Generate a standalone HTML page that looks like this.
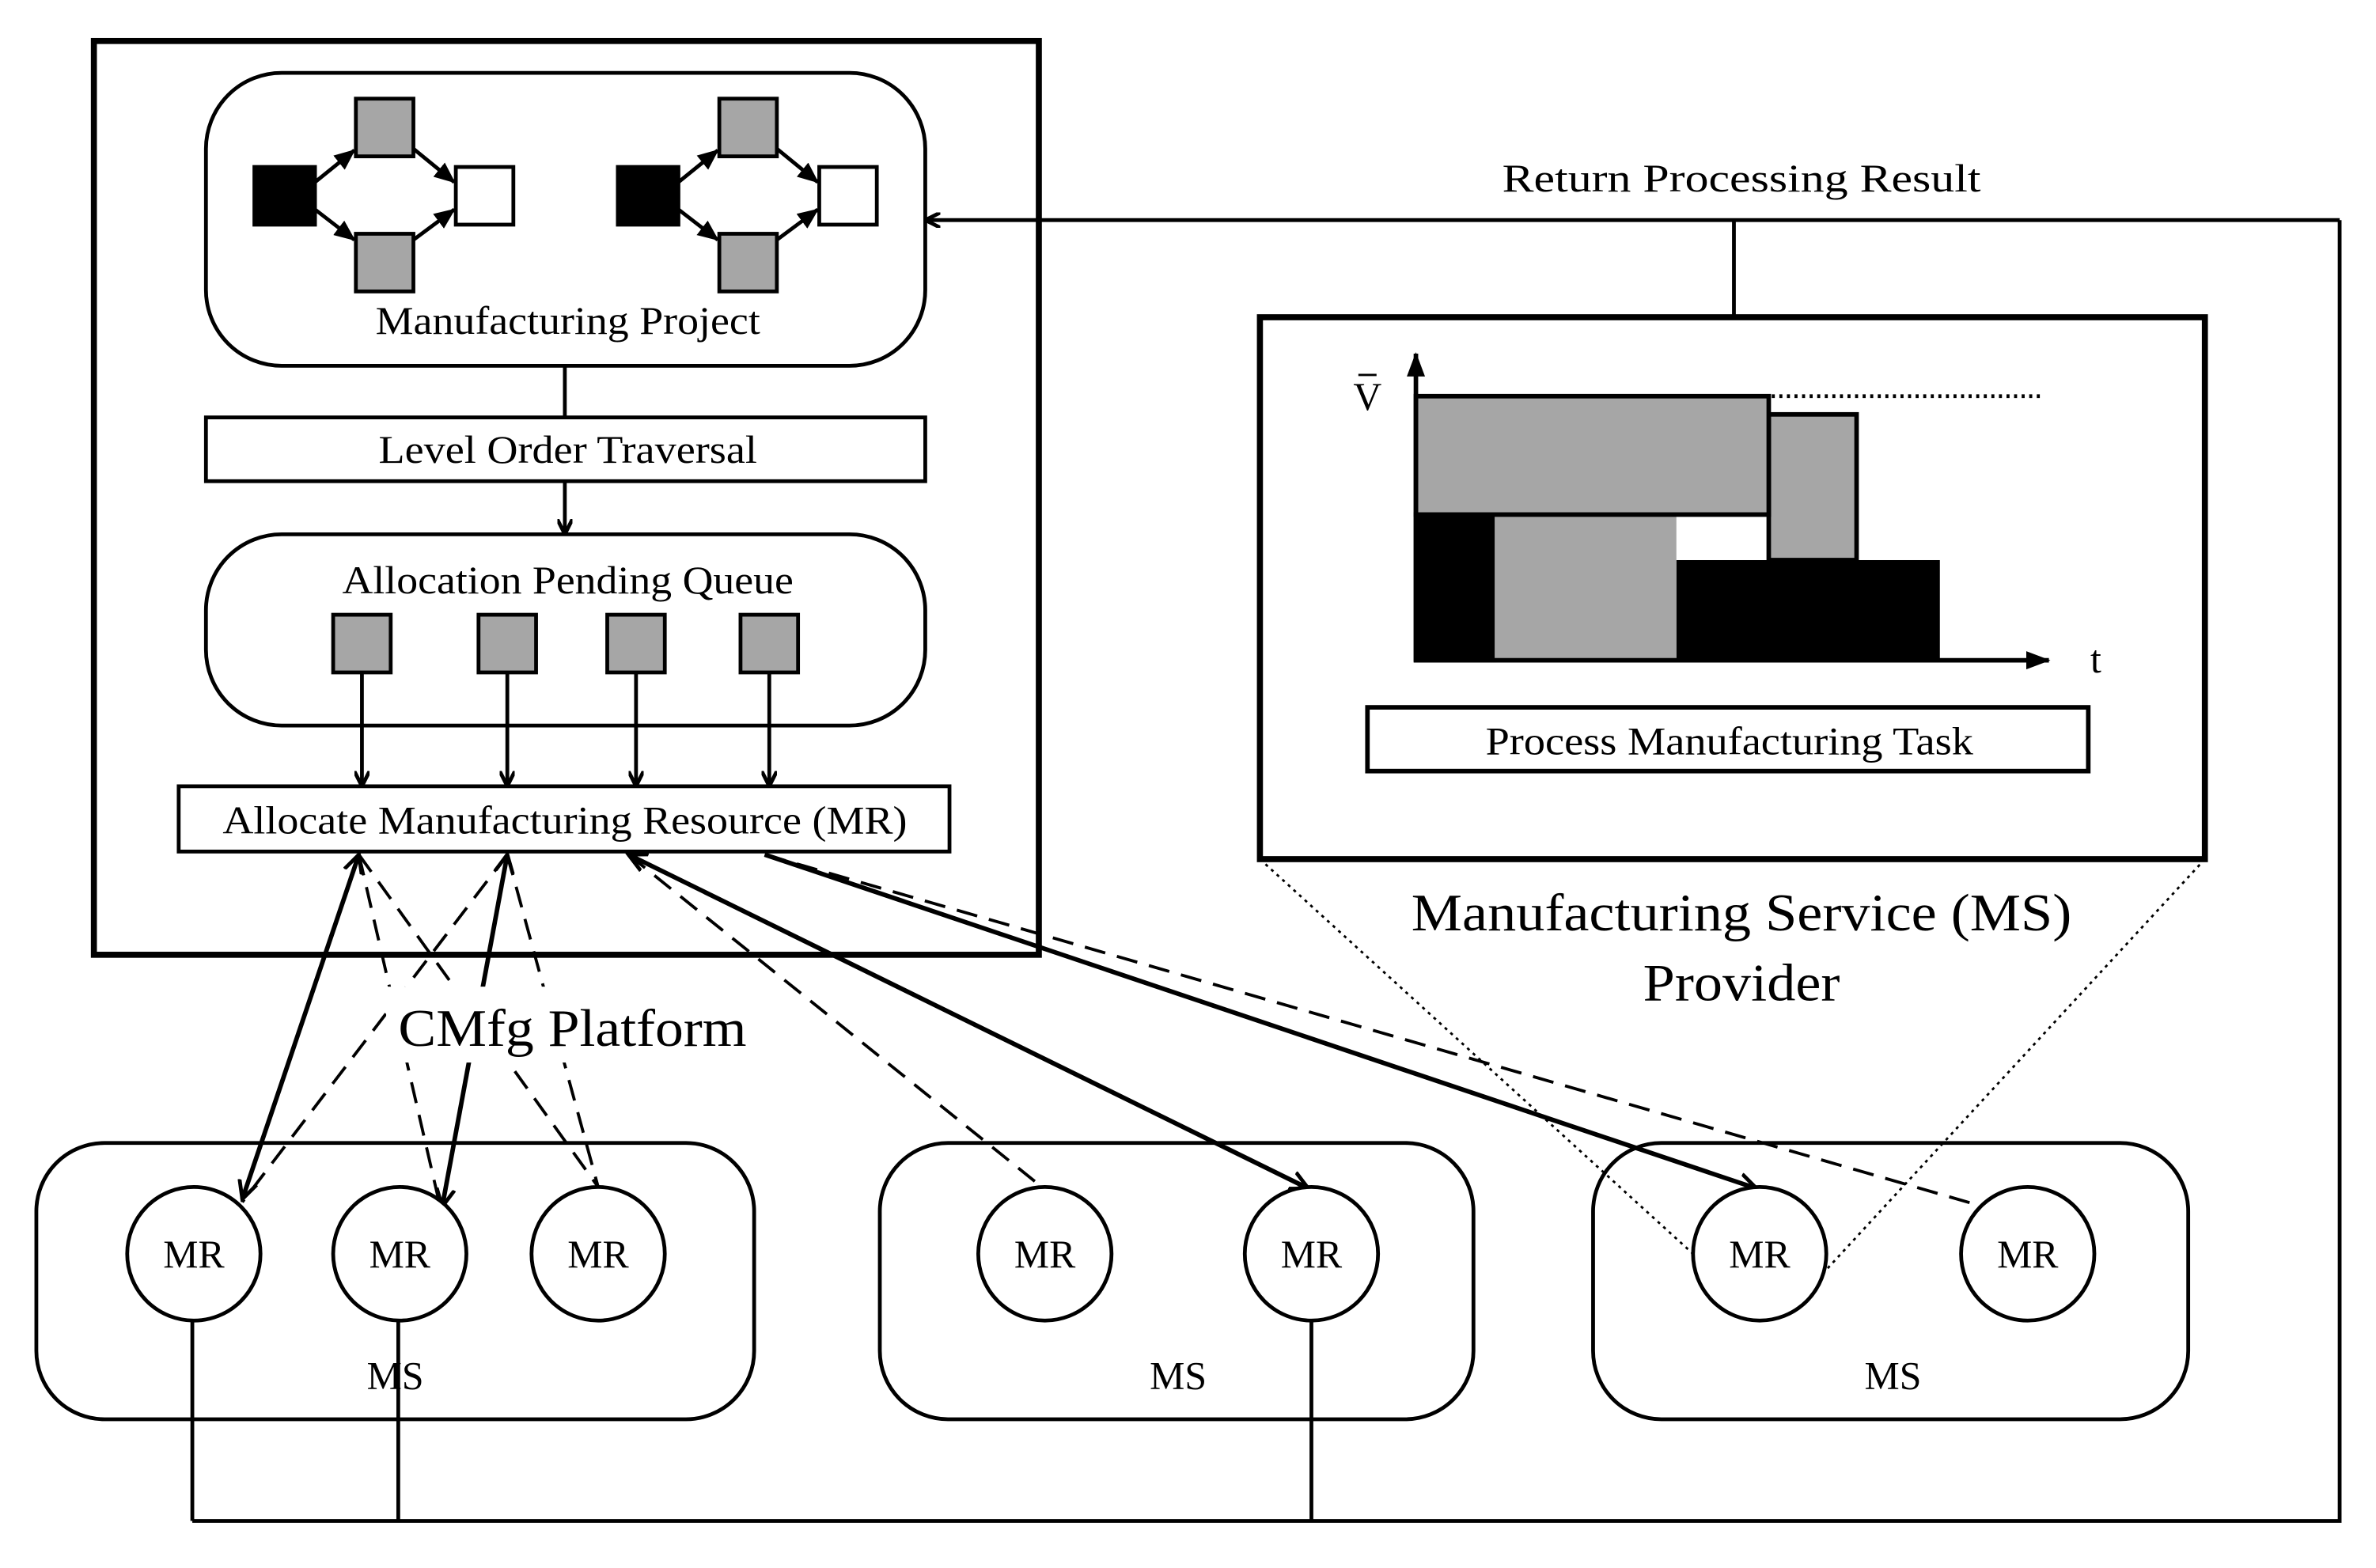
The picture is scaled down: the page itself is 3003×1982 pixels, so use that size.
<!DOCTYPE html>
<html><head><style>html,body{margin:0;padding:0;background:#fff}svg{display:block}</style></head>
<body>
<svg width="3003" height="1982" viewBox="0 0 1569 1033" preserveAspectRatio="none" xmlns="http://www.w3.org/2000/svg" font-family="Liberation Serif, serif">
<defs>
<marker id="a" markerWidth="10" markerHeight="10" refX="9" refY="5" orient="auto" markerUnits="userSpaceOnUse"><path d="M0,0 L10,5 L0,10" fill="none" stroke="#000" stroke-width="2.5"/></marker>
<marker id="f" markerWidth="16" markerHeight="12" refX="15" refY="6" orient="auto" markerUnits="userSpaceOnUse"><path d="M0,0 L16,6 L0,12 z" fill="#000"/></marker>
<marker id="s" markerWidth="14" markerHeight="12" refX="13" refY="6" orient="auto" markerUnits="userSpaceOnUse"><path d="M0,0 L14,6 L0,12 z" fill="#000"/></marker>
<marker id="ar" markerWidth="14" markerHeight="14" refX="12" refY="7" orient="auto-start-reverse" markerUnits="userSpaceOnUse"><path d="M0,1 L12,7 L0,13" fill="none" stroke="#000" stroke-width="2.5"/></marker>
</defs>
<g fill="none" stroke="#000">
<rect x="62" y="27" width="624" height="602" stroke-width="4"/>
<rect x="136" y="48" width="475" height="193" rx="50" stroke-width="2.5"/>
<line x1="373" y1="241" x2="373" y2="275" stroke-width="2.5"/>
<rect x="136" y="275" width="475" height="42" stroke-width="2.5"/>
<line x1="373" y1="317" x2="373" y2="351" stroke-width="2.5" marker-end="url(#a)"/>
<rect x="136" y="352" width="475" height="126" rx="50" stroke-width="2.5"/>
<rect x="118" y="518" width="509" height="43" stroke-width="2.5"/>
<g stroke-width="2.5">
<line x1="239" y1="443" x2="239" y2="517" marker-end="url(#a)"/>
<line x1="335" y1="443" x2="335" y2="517" marker-end="url(#a)"/>
<line x1="420" y1="443" x2="420" y2="517" marker-end="url(#a)"/>
<line x1="508" y1="443" x2="508" y2="517" marker-end="url(#a)"/>
</g>
<polyline points="1545,145 1545,1002 127,1002" stroke-width="2.5"/>
<line x1="1545" y1="145" x2="612" y2="145" stroke-width="2.5" marker-end="url(#a)"/>
<line x1="1145" y1="145" x2="1145" y2="209" stroke-width="2.5"/>
<rect x="832" y="209" width="624" height="357" stroke-width="4"/>
<rect x="903" y="466" width="476" height="42" stroke-width="3"/>
<line x1="832" y1="566" x2="1118" y2="826" stroke-width="1.5" stroke-dasharray="2,3"/>
<line x1="1456" y1="566" x2="1200" y2="843" stroke-width="1.5" stroke-dasharray="2,3"/>
<rect x="24" y="753" width="474" height="182" rx="45" stroke-width="2.5"/>
<rect x="581" y="753" width="392" height="182" rx="45" stroke-width="2.5"/>
<rect x="1052" y="753" width="393" height="182" rx="45" stroke-width="2.5"/>
<g stroke-width="2.5">
<line x1="127" y1="870" x2="127" y2="1002"/>
<line x1="263" y1="870" x2="263" y2="1002"/>
<line x1="866" y1="870" x2="866" y2="1002"/>
</g>
<g stroke-width="2" stroke-dasharray="14,8">
<line x1="237" y1="563" x2="290" y2="792"/>
<line x1="335" y1="563" x2="160" y2="792"/>
<line x1="335" y1="563" x2="395" y2="782"/>
<line x1="237" y1="563" x2="395" y2="782"/>
<line x1="415" y1="563" x2="688" y2="782"/>
<line x1="505" y1="563" x2="1310" y2="795"/>
</g>
<g stroke-width="3">
<line x1="237" y1="563" x2="160" y2="790" marker-start="url(#ar)" marker-end="url(#ar)"/>
<line x1="335" y1="563" x2="292" y2="795" marker-start="url(#ar)" marker-end="url(#ar)"/>
<line x1="415" y1="563" x2="864" y2="783" marker-start="url(#ar)" marker-end="url(#ar)"/>
<line x1="505" y1="563" x2="1160" y2="783" marker-end="url(#ar)"/>
</g>
<g stroke-width="2.5" fill="#fff">
<circle cx="128" cy="826" r="44"/><circle cx="264" cy="826" r="44"/><circle cx="395" cy="826" r="44"/>
<circle cx="690" cy="826" r="44"/><circle cx="866" cy="826" r="44"/>
<circle cx="1162" cy="826" r="44"/><circle cx="1339" cy="826" r="44"/>
</g>
</g>
<rect x="255" y="650" width="245" height="50" fill="#fff"/>
<g stroke="#000" stroke-width="2.5">
<g>
<line x1="208" y1="120" x2="234" y2="99" marker-end="url(#s)"/>
<line x1="208" y1="138" x2="234" y2="158" marker-end="url(#s)"/>
<line x1="273" y1="98" x2="300" y2="120" marker-end="url(#s)"/>
<line x1="273" y1="158" x2="300" y2="138" marker-end="url(#s)"/>
<rect x="168" y="110" width="40" height="38" fill="#000"/>
<rect x="235" y="65" width="38" height="38" fill="#a6a6a6"/>
<rect x="235" y="154" width="38" height="38" fill="#a6a6a6"/>
<rect x="301" y="110" width="38" height="38" fill="#fff"/>
</g>
<g transform="translate(240,0)">
<line x1="208" y1="120" x2="234" y2="99" marker-end="url(#s)"/>
<line x1="208" y1="138" x2="234" y2="158" marker-end="url(#s)"/>
<line x1="273" y1="98" x2="300" y2="120" marker-end="url(#s)"/>
<line x1="273" y1="158" x2="300" y2="138" marker-end="url(#s)"/>
<rect x="168" y="110" width="40" height="38" fill="#000"/>
<rect x="235" y="65" width="38" height="38" fill="#a6a6a6"/>
<rect x="235" y="154" width="38" height="38" fill="#a6a6a6"/>
<rect x="301" y="110" width="38" height="38" fill="#fff"/>
</g>
<rect x="220" y="405" width="38" height="38" fill="#a6a6a6"/>
<rect x="316" y="405" width="38" height="38" fill="#a6a6a6"/>
<rect x="401" y="405" width="38" height="38" fill="#a6a6a6"/>
<rect x="489" y="405" width="38" height="38" fill="#a6a6a6"/>
</g>
<g stroke="#000" stroke-width="3">
<rect x="935" y="339" width="52" height="96" fill="#000"/>
<rect x="1107" y="369" width="174" height="66" fill="#000" stroke="none"/>
<rect x="987" y="339" width="120" height="96" fill="#a6a6a6" stroke="none"/>
<rect x="1168" y="273" width="58" height="96" fill="#a6a6a6"/>
<rect x="935" y="261" width="233" height="78" fill="#a6a6a6"/>
<line x1="935" y1="261" x2="1350" y2="261" stroke-width="2.5" stroke-dasharray="2,3"/>
<line x1="935" y1="436" x2="935" y2="233" marker-end="url(#f)"/>
<line x1="934" y1="435" x2="1353" y2="435" marker-end="url(#f)"/>
</g>
<g font-size="26" text-anchor="middle" fill="#000">
<text x="375" y="220" textLength="254" lengthAdjust="spacingAndGlyphs">Manufacturing Project</text>
<text x="375" y="305" textLength="250" lengthAdjust="spacingAndGlyphs">Level Order Traversal</text>
<text x="375" y="391" textLength="298" lengthAdjust="spacingAndGlyphs">Allocation Pending Queue</text>
<text x="373" y="549" textLength="452" lengthAdjust="spacingAndGlyphs">Allocate Manufacturing Resource (MR)</text>
<text x="1150" y="126" textLength="316" lengthAdjust="spacingAndGlyphs">Return Processing Result</text>
<text x="1142" y="497" textLength="322" lengthAdjust="spacingAndGlyphs">Process Manufacturing Task</text>
<text x="903" y="270">V</text>
<line x1="897" y1="247" x2="909" y2="247" stroke="#000" stroke-width="1.5"/>
<text x="1384" y="443">t</text>
<text x="261" y="915">MS</text><text x="778" y="915">MS</text><text x="1250" y="915">MS</text>
<g font-size="26"><text x="128" y="835">MR</text><text x="264" y="835">MR</text><text x="395" y="835">MR</text><text x="690" y="835">MR</text><text x="866" y="835">MR</text><text x="1162" y="835">MR</text><text x="1339" y="835">MR</text></g>
<g font-size="35"><text x="1150" y="613" textLength="436" lengthAdjust="spacingAndGlyphs">Manufacturing Service (MS)</text><text x="1150" y="659" textLength="130" lengthAdjust="spacingAndGlyphs">Provider</text><text x="378" y="689" textLength="230" lengthAdjust="spacingAndGlyphs">CMfg Platform</text></g>
</g>
</svg>
</body></html>
